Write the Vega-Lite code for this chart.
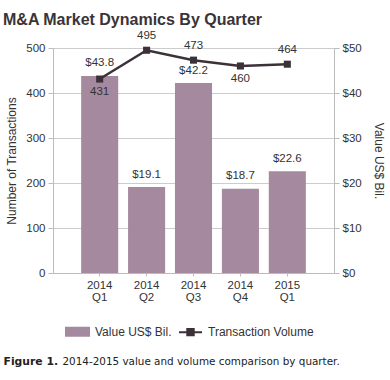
{
  "$schema": "https://vega.github.io/schema/vega-lite/v6.json",
  "width": 281,
  "height": 225,
  "autosize": {"type": "none"},
  "padding": {"left": 53, "top": 48, "right": 56, "bottom": 107},
  "background": "white",
  "title": {
    "text": "M&A Market Dynamics By Quarter",
    "anchor": "start",
    "frame": "group",
    "dx": -50,
    "dy": 2,
    "font": "Liberation Sans",
    "fontSize": 16,
    "fontWeight": "bold",
    "color": "#3a3438"
  },
  "config": {
    "view": {"stroke": null},
    "font": "Liberation Sans",
    "axis": {
      "labelFont": "Liberation Sans",
      "labelFontSize": 11.5,
      "labelColor": "#333333",
      "titleFont": "Liberation Sans",
      "titleFontSize": 12,
      "titleFontWeight": "normal",
      "titleColor": "#333333",
      "domainColor": "#bbbbbb",
      "tickColor": "#bbbbbb",
      "gridColor": "#cccccc"
    }
  },
  "data": {
    "values": [
      {"quarter": "2014 Q1", "value": 43.8, "volume": 431},
      {"quarter": "2014 Q2", "value": 19.1, "volume": 495},
      {"quarter": "2014 Q3", "value": 42.2, "volume": 473},
      {"quarter": "2014 Q4", "value": 18.7, "volume": 460},
      {"quarter": "2015 Q1", "value": 22.6, "volume": 464}
    ]
  },
  "layer": [
    {
      "encoding": {
        "x": {
          "field": "quarter",
          "type": "ordinal",
          "sort": null,
          "scale": {"paddingInner": 0.21, "paddingOuter": 0.6},
          "axis": {
            "orient": "bottom",
            "labelAngle": 0,
            "labelExpr": "split(datum.label, ' ')",
            "labelLineHeight": 12,
            "labelPadding": 3,
            "tickSize": 3,
            "domainColor": "#bbbbbb",
            "title": "Figure 1.",
            "titleFont": "DejaVu Sans",
            "titleFontWeight": "bold",
            "titleFontSize": 10.8,
            "titleColor": "#222222",
            "titleAlign": "left",
            "titleAnchor": "start",
            "titleBaseline": "alphabetic",
            "titleX": -50,
            "titleY": 91
          }
        },
        "y": {
          "field": "value",
          "type": "quantitative",
          "scale": {"domain": [0, 50]},
          "axis": {
            "orient": "right",
            "values": [0, 10, 20, 30, 40, 50],
            "labelExpr": "'$' + datum.value",
            "grid": false,
            "tickSize": 5,
            "labelPadding": 3,
            "title": "Value US$ Bil.",
            "titlePadding": 10
          }
        }
      },
      "layer": [
        {
          "mark": {"type": "bar"},
          "encoding": {
            "color": {
              "datum": "Value US$ Bil.",
              "type": "nominal",
              "scale": {"domain": ["Value US$ Bil.", "Transaction Volume"], "range": ["#a5899f", "#3c3039"]},
              "legend": {
                "orient": "none",
                "direction": "horizontal",
                "legendX": 12,
                "legendY": 271,
                "title": null,
                "labelFont": "Liberation Sans",
                "labelFontSize": 12,
                "labelColor": "#333333",
                "labelOffset": 5,
                "columnPadding": 3,
                "symbolSize": 529,
                "encode": {
                  "symbols": {
                    "update": {
                      "shape": {"signal": "datum.value === 'Transaction Volume' ? 'M-1,0H1M-0.28,-0.28H0.28V0.28H-0.28Z' : 'M-1,-0.35H1V0.35H-1Z'"},
                      "fill": {"signal": "datum.value === 'Transaction Volume' ? '#3c3039' : '#a5899f'"},
                      "stroke": {"signal": "datum.value === 'Transaction Volume' ? '#3c3039' : null"},
                      "strokeWidth": {"value": 2},
                      "opacity": {"value": 1},
                      "fillOpacity": {"value": 1},
                      "size": {"value": 529}
                    }
                  }
                }
              }
            }
          }
        },
        {
          "mark": {"type": "text", "baseline": "middle", "dy": -12.5, "font": "Liberation Sans", "fontSize": 11.5, "color": "#333333"},
          "encoding": {
            "text": {"field": "value", "type": "quantitative", "format": "$.1f"}
          }
        }
      ]
    },
    {
      "encoding": {
        "x": {
          "field": "quarter",
          "type": "ordinal",
          "sort": null,
          "axis": {
            "orient": "bottom",
            "labels": false,
            "ticks": false,
            "domain": false,
            "grid": false,
            "title": "2014-2015 value and volume comparison by quarter.",
            "titleFont": "DejaVu Sans",
            "titleFontWeight": "normal",
            "titleFontSize": 10.4,
            "titleColor": "#222222",
            "titleAlign": "left",
            "titleAnchor": "start",
            "titleBaseline": "alphabetic",
            "titleX": 9,
            "titleY": 91
          }
        },
        "y": {
          "field": "volume",
          "type": "quantitative",
          "scale": {"domain": [0, 500]},
          "axis": {
            "orient": "left",
            "values": [0, 100, 200, 300, 400, 500],
            "grid": true,
            "tickSize": 5,
            "labelPadding": 3,
            "title": "Number of Transactions",
            "titlePadding": 7
          }
        }
      },
      "layer": [
        {
          "mark": {"type": "line", "strokeWidth": 2.5},
          "encoding": {
            "color": {"datum": "Transaction Volume", "type": "nominal"}
          }
        },
        {
          "mark": {"type": "point", "shape": "square", "filled": true, "size": 50, "opacity": 1, "color": "#3c3039"}
        },
        {
          "transform": [{"filter": "datum.quarter !== '2014 Q1' && datum.quarter !== '2014 Q4'"}],
          "mark": {"type": "text", "baseline": "middle", "dy": -14, "font": "Liberation Sans", "fontSize": 11.5, "color": "#333333"},
          "encoding": {"text": {"field": "volume", "type": "quantitative"}}
        },
        {
          "transform": [{"filter": "datum.quarter === '2014 Q1' || datum.quarter === '2014 Q4'"}],
          "mark": {"type": "text", "baseline": "middle", "dy": 13, "font": "Liberation Sans", "fontSize": 11.5, "color": "#333333"},
          "encoding": {"text": {"field": "volume", "type": "quantitative"}}
        }
      ]
    }
  ],
  "resolve": {"scale": {"y": "independent"}, "axis": {"x": "independent"}}
}
